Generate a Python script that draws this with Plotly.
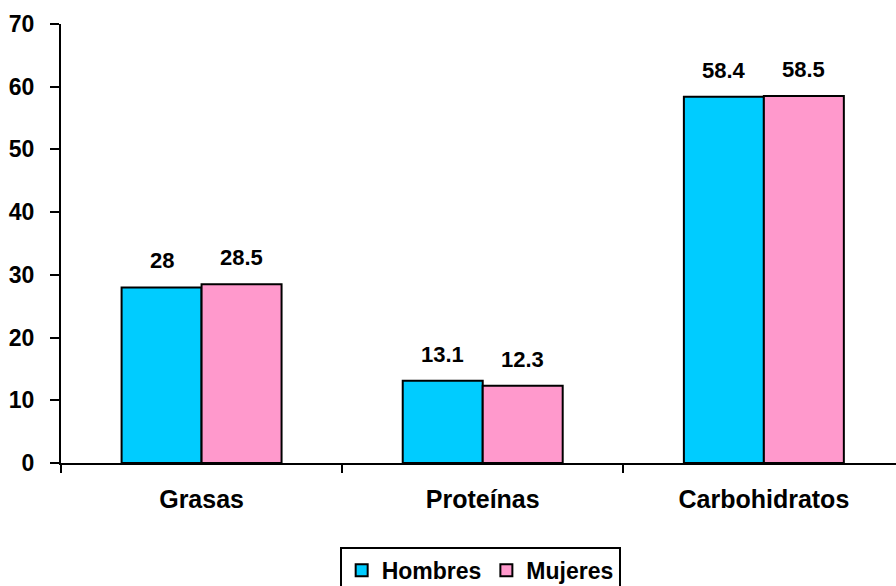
import plotly.graph_objects as go

categories = ["Grasas", "Proteínas", "Carbohidratos"]
hombres = [28, 13.1, 58.4]
mujeres = [28.5, 12.3, 58.5]
hombres_labels = ["28", "13.1", "58.4"]
mujeres_labels = ["28.5", "12.3", "58.5"]
y_ticks = [0, 10, 20, 30, 40, 50, 60, 70]

FONT = "Liberation Sans, Arial, sans-serif"

fig = go.Figure()
fig.add_trace(go.Bar(name="Hombres", x=categories, y=hombres,
                     marker=dict(color="#00CCFF", line=dict(color="black", width=2))))
fig.add_trace(go.Bar(name="Mujeres", x=categories, y=mujeres,
                     marker=dict(color="#FF99CC", line=dict(color="black", width=2))))

for c, v, t in zip(categories, hombres, hombres_labels):
    fig.add_annotation(x=c, y=v, text=f"<b>{t}</b>", showarrow=False, xshift=-40,
                       yanchor="bottom", yshift=12, font=dict(size=22, color="black", family=FONT))
for c, v, t in zip(categories, mujeres, mujeres_labels):
    fig.add_annotation(x=c, y=v, text=f"<b>{t}</b>", showarrow=False, xshift=40,
                       yanchor="bottom", yshift=12, font=dict(size=22, color="black", family=FONT))

fig.update_layout(
    width=896, height=586,
    margin=dict(l=61, r=0, t=24, b=123, autoexpand=False),
    paper_bgcolor="white", plot_bgcolor="white",
    barmode="group", bargap=0.431, bargroupgap=0,
    font=dict(family=FONT, size=22, color="black"),
    showlegend=True,
    legend=dict(orientation="h", x=0.502, xanchor="center", y=-0.191, yanchor="top",
                bordercolor="black", borderwidth=2, bgcolor="white",
                font=dict(size=23, family=FONT, color="black", weight="bold"),
                itemwidth=30, tracegroupgap=0),
    xaxis=dict(range=[-0.5, 2.47], showline=True, linecolor="black", linewidth=2,
               ticks="outside", tickson="boundaries", ticklen=8, tickwidth=2, tickcolor="black",
               ticklabelstandoff=13,
               tickfont=dict(size=25, family=FONT, weight="bold"), showgrid=False,
               zeroline=False),
    yaxis=dict(range=[0, 70], tickvals=y_ticks, showline=True, linecolor="black", linewidth=2,
               ticks="outside", ticklen=9, tickwidth=2, tickcolor="black",
               ticklabelstandoff=11,
               tickfont=dict(size=23, family=FONT, weight="bold"), showgrid=False,
               zeroline=False),
)

fig.write_html("out.html", config={"displayModeBar": False},
               post_script="document.body.style.margin='0';")
